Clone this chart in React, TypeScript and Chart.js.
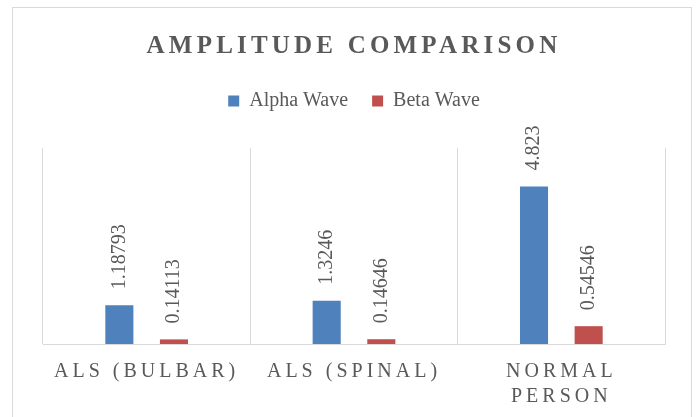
import React, { useEffect, useRef } from "react";
import { Chart, registerables, CategoryScale } from "chart.js";

Chart.register(...registerables);

class SpacedCategoryScale extends CategoryScale {
  static id = "spacedCategory";
  static defaults = CategoryScale.defaults;
  drawLabels(chartArea: any) {
    const ctx: any = this.ctx;
    ctx.save();
    ctx.letterSpacing = "4px";
    super.drawLabels(chartArea);
    ctx.restore();
  }
}
Chart.register(SpacedCategoryScale as any);

const TITLE = "AMPLITUDE COMPARISON";
const categories: (string | string[])[] = ["ALS (BULBAR)", "ALS (SPINAL)", ["NORMAL", "PERSON"]];
const seriesNames = ["Alpha Wave", "Beta Wave"];
const alphaValues = [1.18793, 1.3246, 4.823];
const betaValues = [0.14113, 0.14646, 0.54546];
const yMin = 0;
const yMax = 6;

const TEXT = "#595959";
const GRID = "#d9d9d9";
const FONT = "'Liberation Serif', 'Times New Roman', serif";

const titlePlugin = {
  id: "spacedTitle",
  afterDraw(chart: any) {
    const ctx = chart.ctx as any;
    ctx.save();
    ctx.font = `bold 25px ${FONT}`;
    ctx.letterSpacing = "4.2px";
    ctx.fillStyle = TEXT;
    ctx.textAlign = "center";
    ctx.textBaseline = "alphabetic";
    ctx.fillText(TITLE, chart.width / 2 + 2, 45);
    ctx.restore();
  },
};

const legendSpacePlugin = {
  id: "legendSpace",
  beforeLayout(chart: any) {
    const lg = chart.legend;
    if (lg && !lg.__patched) {
      const orig = lg.fit;
      lg.fit = function () {
        orig.call(this);
        this.height += 27;
      };
      lg.__patched = true;
    }
  },
};

const valueLabelPlugin = {
  id: "valueLabels",
  afterDatasetsDraw(chart: any) {
    const ctx = chart.ctx;
    ctx.save();
    ctx.font = `20px ${FONT}`;
    ctx.fillStyle = TEXT;
    ctx.textAlign = "left";
    ctx.textBaseline = "middle";
    chart.data.datasets.forEach((ds: any, i: number) => {
      const meta = chart.getDatasetMeta(i);
      meta.data.forEach((el: any, j: number) => {
        ctx.save();
        ctx.translate(el.x, el.y - 16);
        ctx.rotate(-Math.PI / 2);
        ctx.fillText(String(ds.data[j]), 0, 0);
        ctx.restore();
      });
    });
    ctx.restore();
  },
};

export default function App() {
  const ref = useRef<HTMLCanvasElement>(null);
  useEffect(() => {
    if (!ref.current) return;
    const chart = new Chart(ref.current, {
      type: "bar",
      data: {
        labels: categories as any,
        datasets: [
          { label: seriesNames[0], data: alphaValues, backgroundColor: "#4F81BD", borderWidth: 0 },
          { label: seriesNames[1], data: betaValues, backgroundColor: "#C0504D", borderWidth: 0 },
        ],
      },
      options: {
        responsive: false,
        animation: false,
        layout: { padding: { top: 59, left: 30, right: 26, bottom: 0 } },
        datasets: { bar: { categoryPercentage: 0.527, barPercentage: 0.514 } },
        plugins: {
          title: { display: false },
          tooltip: { enabled: false },
          legend: {
            display: true,
            position: "top",
            labels: {
              boxWidth: 11,
              boxHeight: 11,
              padding: 24,
              color: TEXT,
              font: { family: FONT, size: 20 },
            },
          },
        },
        scales: {
          x: {
            type: "spacedCategory" as any,
            grid: { display: true, color: GRID, lineWidth: 1, drawTicks: false, offset: true },
            border: { display: true, color: GRID, width: 1 },
            ticks: {
              color: TEXT,
              padding: 15,
              maxRotation: 0,
              autoSkip: false,
              font: { family: FONT, size: 20, lineHeight: 1.25 },
            },
            afterFit: (scale: any) => {
              scale.height = 73;
            },
          },
          y: { display: false, min: yMin, max: yMax },
        },
      },
      plugins: [legendSpacePlugin, titlePlugin, valueLabelPlugin],
    });
    return () => chart.destroy();
  }, []);
  return (
    <div
      style={{
        position: "absolute",
        left: 12,
        top: 7,
        width: 678,
        height: 410,
        borderTop: `1px solid ${GRID}`,
        borderLeft: `1px solid ${GRID}`,
        borderRight: `1px solid ${GRID}`,
        background: "#fff",
      }}
    >
      <canvas ref={ref} width={678} height={409} style={{ display: "block" }} />
    </div>
  );
}
